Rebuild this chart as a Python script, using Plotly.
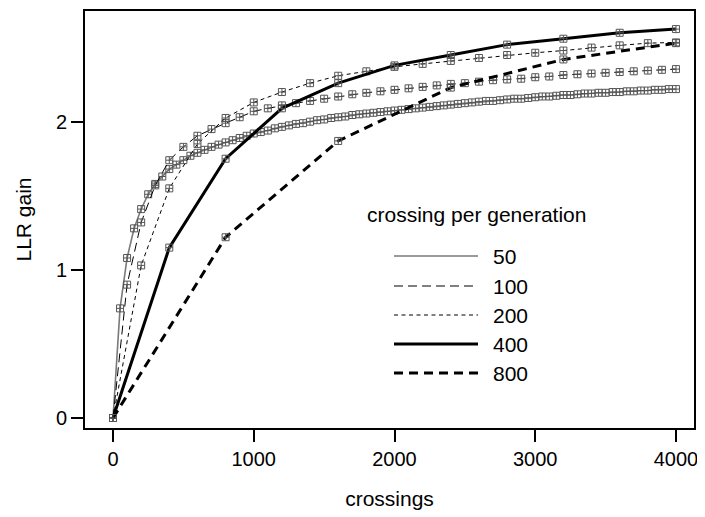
import plotly.graph_objects as go

# crossings per generation: 50 (points every 50 crossings)
x50 = list(range(0, 4001, 50))
y50 = [0, 0.74, 1.08, 1.28, 1.41, 1.51, 1.58, 1.63, 1.68, 1.71,
       1.74, 1.77, 1.79, 1.81, 1.83, 1.845, 1.86, 1.875, 1.89, 1.905,
       1.92, 1.93, 1.94, 1.955, 1.965, 1.975, 1.985, 1.99, 2.00, 2.01,
       2.015, 2.025, 2.03, 2.035, 2.045, 2.05, 2.055, 2.06, 2.065, 2.07,
       2.075, 2.08, 2.085, 2.09, 2.095, 2.10, 2.105, 2.11, 2.115, 2.12,
       2.125, 2.13, 2.135, 2.14, 2.14, 2.145, 2.15, 2.155, 2.155, 2.16,
       2.165, 2.17, 2.17, 2.175, 2.18, 2.18, 2.185, 2.19, 2.19, 2.195,
       2.195, 2.20, 2.20, 2.205, 2.205, 2.21, 2.21, 2.215, 2.215, 2.22,
       2.22]

x100 = list(range(0, 4001, 100))
y100 = [0, 0.90, 1.32, 1.57, 1.74, 1.83, 1.905, 1.95, 1.99, 2.03,
        2.07, 2.09, 2.11, 2.125, 2.14, 2.155, 2.17, 2.185, 2.195, 2.205,
        2.215, 2.225, 2.235, 2.245, 2.255, 2.26, 2.27, 2.28, 2.285, 2.29,
        2.30, 2.305, 2.315, 2.32, 2.325, 2.33, 2.335, 2.34, 2.345, 2.35,
        2.355]

x200 = list(range(0, 4001, 200))
y200 = [0, 1.03, 1.55, 1.85, 2.025, 2.13, 2.20, 2.26, 2.31, 2.34,
        2.37, 2.39, 2.41, 2.43, 2.45, 2.465, 2.48, 2.50, 2.515, 2.53,
        2.535]

x400 = list(range(0, 4001, 400))
y400 = [0, 1.15, 1.75, 2.09, 2.26, 2.38, 2.45, 2.52, 2.56, 2.60, 2.625]

x800 = list(range(0, 4001, 800))
y800 = [0, 1.22, 1.87, 2.23, 2.42, 2.53]

legend_labels = ["50", "100", "200", "400", "800"]
x_ticks = [0, 1000, 2000, 3000, 4000]
y_ticks = [0, 1, 2]

styles = [
    dict(color="#7a7a7a", width=1.6, dash="solid"),
    dict(color="black", width=1, dash="9px,5px"),
    dict(color="black", width=1, dash="4px,3.5px"),
    dict(color="black", width=3, dash="solid"),
    dict(color="black", width=3, dash="9px,6px"),
]

series = [(x50, y50), (x100, y100), (x200, y200), (x400, y400), (x800, y800)]

FONT = "Liberation Sans, Arial, sans-serif"

# The page body has an 8px margin, so figure coords = page coords - 8.
OFF = 8
FW, FH = 705 - OFF, 517 - OFF
# plot area in page pixels
L, R, T, B = 85, 694, 11, 428
W, H = R - L, B - T

fig = go.Figure()
for (xs, ys), st, name in zip(series, styles, legend_labels):
    fig.add_trace(go.Scatter(
        x=xs, y=ys, mode="lines+markers", name=name, showlegend=False,
        line=st,
        marker=dict(symbol="square-cross-open", size=7,
                    color="#555555", line=dict(width=1, color="#555555")),
    ))

# legend drawn in paper coordinates
fig.add_annotation(xref="paper", yref="paper", x=(365 - L) / W, y=(B - 214) / H,
                   text="crossing per generation", showarrow=False,
                   xanchor="left", yanchor="middle",
                   font=dict(family=FONT, size=21, color="black"))
leg_y = [256, 286, 315, 344, 373]
for py, st, name in zip(leg_y, styles, legend_labels):
    yy = (B - py) / H
    fig.add_shape(type="line", xref="paper", yref="paper",
                  x0=(394 - L) / W, x1=(478 - L) / W, y0=yy, y1=yy,
                  line=st)
    fig.add_annotation(xref="paper", yref="paper", x=(491 - L) / W, y=yy,
                       text=name, showarrow=False, xanchor="left", yanchor="middle",
                       font=dict(family=FONT, size=21, color="black"))

fig.update_layout(
    width=FW, height=FH,
    margin=dict(l=L - OFF, r=705 - R, t=T - OFF, b=517 - B),
    plot_bgcolor="white", paper_bgcolor="white",
    font=dict(family=FONT, size=20, color="black"),
)
fig.update_xaxes(
    range=[-199, 4128], tickvals=x_ticks, ticktext=[str(v) for v in x_ticks],
    showgrid=False, zeroline=False, showline=True, mirror=True,
    linecolor="black", linewidth=2, ticks="outside", ticklen=12, tickwidth=2,
    tickcolor="black", automargin=False,
    title=dict(text="crossings", standoff=22,
               font=dict(family=FONT, size=21, color="black")),
)
fig.update_yaxes(
    range=[-0.0675, 2.747], tickvals=y_ticks, ticktext=[str(v) for v in y_ticks],
    showgrid=False, zeroline=False, showline=True, mirror=True,
    linecolor="black", linewidth=2, ticks="outside", ticklen=12, tickwidth=2,
    tickcolor="black", automargin=False,
    title=dict(text="LLR gain", standoff=19,
               font=dict(family=FONT, size=21, color="black")),
)

fig.write_html("out.html")
